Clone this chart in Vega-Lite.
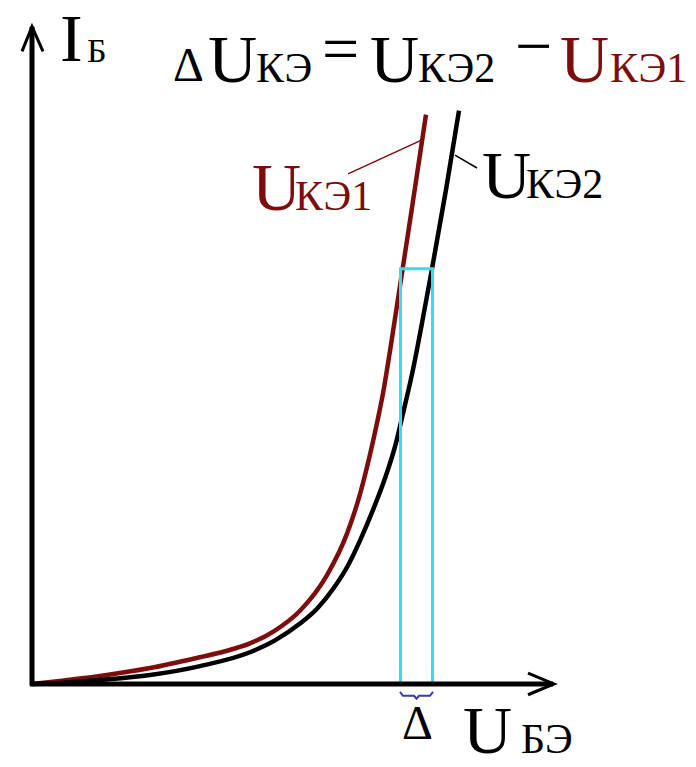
{
  "$schema": "https://vega.github.io/schema/vega-lite/v6.json",
  "width": 696,
  "height": 767,
  "padding": 0,
  "autosize": {"type": "fit", "contains": "padding"},
  "background": "white",
  "config": {"view": {"stroke": null}},
  "datasets": {
    "curves": [
      {"series": "UКЭ1", "u": 0, "i": 0}, {"series": "UКЭ1", "u": 28, "i": 3}, {"series": "UКЭ1", "u": 68, "i": 8},
      {"series": "UКЭ1", "u": 118, "i": 16}, {"series": "UКЭ1", "u": 168, "i": 27}, {"series": "UКЭ1", "u": 193, "i": 33},
      {"series": "UКЭ1", "u": 218, "i": 41}, {"series": "UКЭ1", "u": 243, "i": 54}, {"series": "UКЭ1", "u": 268, "i": 74},
      {"series": "UКЭ1", "u": 295, "i": 110}, {"series": "UКЭ1", "u": 315, "i": 152}, {"series": "UКЭ1", "u": 328, "i": 192},
      {"series": "UКЭ1", "u": 338, "i": 232}, {"series": "UКЭ1", "u": 345, "i": 264}, {"series": "UКЭ1", "u": 351, "i": 294},
      {"series": "UКЭ1", "u": 358, "i": 337}, {"series": "UКЭ1", "u": 365, "i": 383}, {"series": "UКЭ1", "u": 372, "i": 429},
      {"series": "UКЭ1", "u": 380, "i": 482}, {"series": "UКЭ1", "u": 387, "i": 529}, {"series": "UКЭ1", "u": 394, "i": 576},
      {"series": "UКЭ2", "u": 0, "i": 0}, {"series": "UКЭ2", "u": 28, "i": 1}, {"series": "UКЭ2", "u": 68, "i": 4},
      {"series": "UКЭ2", "u": 118, "i": 9}, {"series": "UКЭ2", "u": 168, "i": 18}, {"series": "UКЭ2", "u": 218, "i": 32},
      {"series": "UКЭ2", "u": 243, "i": 44}, {"series": "UКЭ2", "u": 268, "i": 61}, {"series": "UКЭ2", "u": 285, "i": 76},
      {"series": "UКЭ2", "u": 301, "i": 96}, {"series": "UКЭ2", "u": 315, "i": 118}, {"series": "UКЭ2", "u": 328, "i": 145},
      {"series": "UКЭ2", "u": 341, "i": 176}, {"series": "UКЭ2", "u": 353, "i": 208}, {"series": "UКЭ2", "u": 363, "i": 240},
      {"series": "UКЭ2", "u": 372, "i": 278}, {"series": "UКЭ2", "u": 381, "i": 318}, {"series": "UКЭ2", "u": 390, "i": 365},
      {"series": "UКЭ2", "u": 400, "i": 420}, {"series": "UКЭ2", "u": 414, "i": 500}, {"series": "UКЭ2", "u": 427, "i": 580}
    ],
    "leaders": [
      {"series": "UКЭ1", "u": 389, "i": 550, "u2": 316, "i2": 516},
      {"series": "UКЭ2", "u": 423, "i": 535, "u2": 445, "i2": 522}
    ],
    "window": [{"u": 368.5, "i": 0, "u2": 400.5, "i2": 420}],
    "axes": [
      {"u": 0, "i": -2, "u2": 0, "i2": 665},
      {"u": -2, "i": 0, "u2": 521, "i2": 0}
    ],
    "arrows": [
      {"arrow": "I", "k": 0, "u": -10, "i": 640}, {"arrow": "I", "k": 1, "u": 0, "i": 665}, {"arrow": "I", "k": 2, "u": 11, "i": 640},
      {"arrow": "U", "k": 0, "u": 496, "i": 11}, {"arrow": "U", "k": 1, "u": 522, "i": 0}, {"arrow": "U", "k": 2, "u": 496, "i": -11}
    ],
    "brace": [
      {"u": 368, "i": -8}, {"u": 371, "i": -12}, {"u": 382, "i": -12}, {"u": 384.5, "i": -15},
      {"u": 387, "i": -12}, {"u": 398, "i": -12}, {"u": 401, "i": -8}
    ],
    "bigBlack": [
      {"t": "I", "u": 28, "i": 630},
      {"t": "U", "u": 176, "i": 609},
      {"t": "U", "u": 338, "i": 609},
      {"t": "U", "u": 450, "i": 492},
      {"t": "U", "u": 431, "i": -70}
    ],
    "bigRed": [
      {"t": "U", "u": 528, "i": 609},
      {"t": "U", "u": 220, "i": 480}
    ],
    "subBlack": [
      {"t": "КЭ", "u": 224, "i": 609},
      {"t": "КЭ2", "u": 386, "i": 609},
      {"t": "КЭ2", "u": 494, "i": 492},
      {"t": "БЭ", "u": 489, "i": -70}
    ],
    "subRed": [
      {"t": "КЭ1", "u": 578, "i": 609},
      {"t": "КЭ1", "u": 263, "i": 480}
    ],
    "subSmall": [{"t": "Б", "u": 55, "i": 629}],
    "deltas": [
      {"t": "Δ", "u": 141, "i": 610},
      {"t": "Δ", "u": 370, "i": -56}
    ],
    "ops": [
      {"t": "=", "u": 290, "i": 620},
      {"t": "−", "u": 483, "i": 623}
    ]
  },
  "encoding": {
    "x": {"field": "u", "type": "quantitative", "axis": null, "scale": {"domain": [-32, 664], "nice": false, "zero": false}},
    "y": {"field": "i", "type": "quantitative", "axis": null, "scale": {"domain": [-75, 692], "nice": false, "zero": false}}
  },
  "layer": [
    {
      "data": {"name": "curves"},
      "mark": {"type": "line", "strokeWidth": 4.5, "interpolate": "monotone"},
      "encoding": {
        "color": {"field": "series", "type": "nominal", "legend": null,
                  "scale": {"domain": ["UКЭ1", "UКЭ2"], "range": ["#7d0c0c", "#000000"]}}
      }
    },
    {
      "data": {"name": "leaders"},
      "mark": {"type": "rule", "strokeWidth": 1.5},
      "encoding": {
        "x2": {"field": "u2"},
        "y2": {"field": "i2"},
        "color": {"field": "series", "type": "nominal", "legend": null}
      }
    },
    {
      "data": {"name": "window"},
      "mark": {"type": "rect", "filled": false, "stroke": "#36dde6", "strokeWidth": 3},
      "encoding": {"x2": {"field": "u2"}, "y2": {"field": "i2"}}
    },
    {
      "data": {"name": "axes"},
      "mark": {"type": "rule", "color": "black", "strokeWidth": 5},
      "encoding": {"x2": {"field": "u2"}, "y2": {"field": "i2"}}
    },
    {
      "data": {"name": "arrows"},
      "mark": {"type": "line", "color": "black", "strokeWidth": 3},
      "encoding": {"detail": {"field": "arrow"}, "order": {"field": "k"}}
    },
    {
      "data": {"name": "brace"},
      "mark": {"type": "line", "color": "#3a3aa8", "strokeWidth": 2},
      "encoding": {}
    },
    {
      "data": {"name": "bigBlack"},
      "mark": {"type": "text", "font": "Liberation Serif", "fontSize": 68, "align": "left", "baseline": "alphabetic", "color": "black"},
      "encoding": {"text": {"field": "t"}}
    },
    {
      "data": {"name": "bigRed"},
      "mark": {"type": "text", "font": "Liberation Serif", "fontSize": 68, "align": "left", "baseline": "alphabetic", "color": "#7d0c0c"},
      "encoding": {"text": {"field": "t"}}
    },
    {
      "data": {"name": "subBlack"},
      "mark": {"type": "text", "font": "Liberation Serif", "fontSize": 42, "align": "left", "baseline": "alphabetic", "color": "black"},
      "encoding": {"text": {"field": "t"}}
    },
    {
      "data": {"name": "subRed"},
      "mark": {"type": "text", "font": "Liberation Serif", "fontSize": 42, "align": "left", "baseline": "alphabetic", "color": "#7d0c0c"},
      "encoding": {"text": {"field": "t"}}
    },
    {
      "data": {"name": "subSmall"},
      "mark": {"type": "text", "font": "Liberation Serif", "fontSize": 34, "align": "left", "baseline": "alphabetic", "color": "black"},
      "encoding": {"text": {"field": "t"}}
    },
    {
      "data": {"name": "deltas"},
      "mark": {"type": "text", "font": "Liberation Serif", "fontSize": 48, "align": "left", "baseline": "alphabetic", "color": "black"},
      "encoding": {"text": {"field": "t"}}
    },
    {
      "data": {"name": "ops"},
      "mark": {"type": "text", "font": "Liberation Serif", "fontSize": 66, "align": "left", "baseline": "alphabetic", "color": "black"},
      "encoding": {"text": {"field": "t"}}
    }
  ]
}
